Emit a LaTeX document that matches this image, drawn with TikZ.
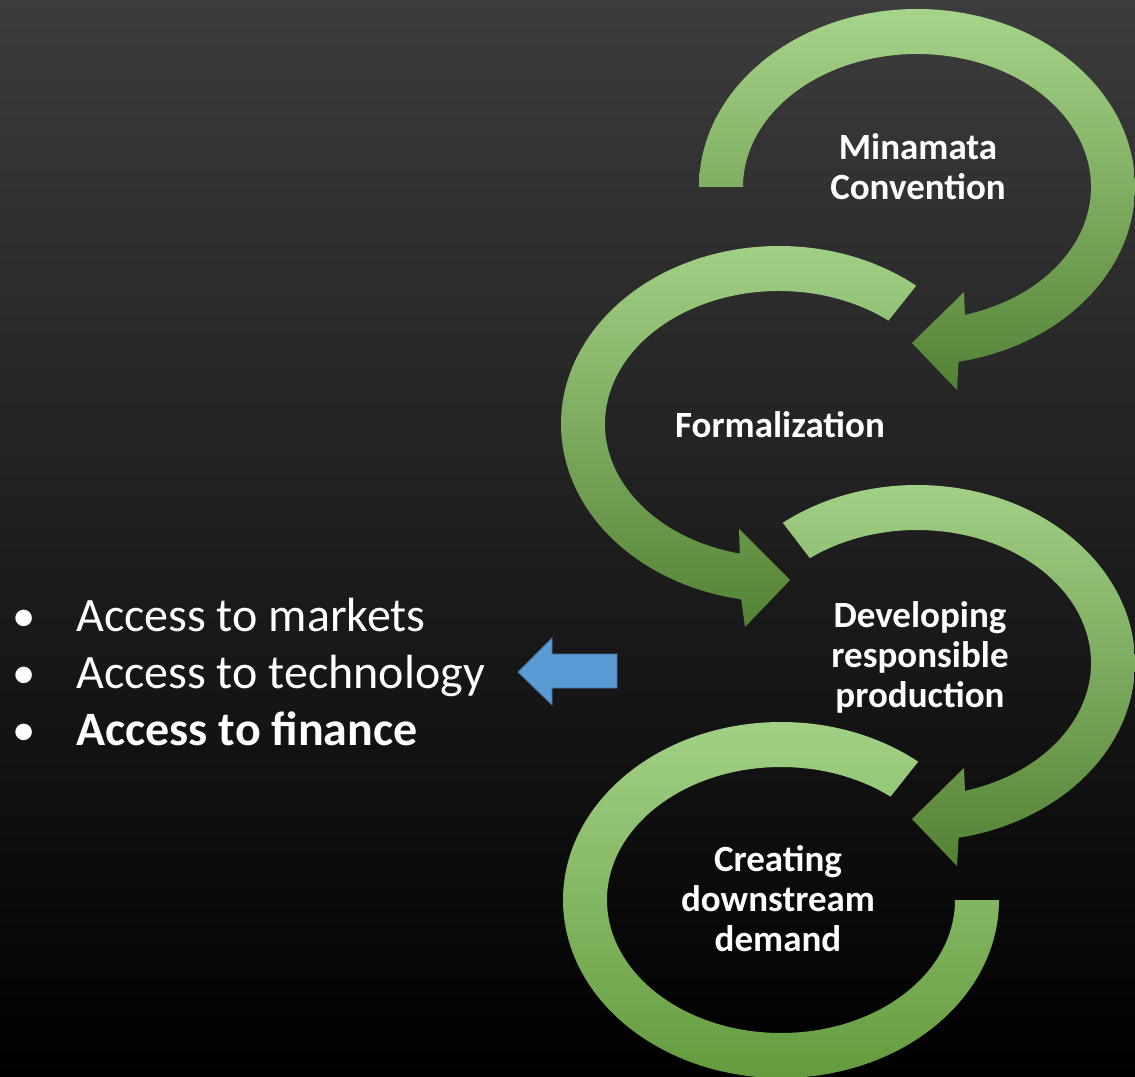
\documentclass[tikz,border=0pt]{standalone}
\usepackage{fontspec}
\setmainfont{Carlito}
\usepackage{tikz}

\definecolor{bgtop}{RGB}{60,60,60}
\definecolor{gtop}{RGB}{166,212,138}
\definecolor{gmid}{RGB}{112,173,71}
\definecolor{gbot}{RGB}{84,130,53}
\definecolor{glow}{RGB}{96,152,58}
\definecolor{blueArrow}{RGB}{91,155,213}
\definecolor{blueEdge}{RGB}{65,113,156}

\newcommand{\listdot}{\makebox[48pt][l]{\fontsize{35}{30}\selectfont •}}

\tikzset{
  greenarrow/.style={top color=gtop,middle color=gmid,bottom color=gbot},
  steplabel/.style={text=white,font=\fontsize{27.75}{30}\selectfont\bfseries,align=center},
  listitem/.style={text=white,font=\fontsize{36}{42.75}\selectfont,align=left,anchor=north west,inner sep=0pt},
  bluearrow/.style={fill=blueArrow,draw=blueEdge,line width=0.6pt},
}

\begin{document}
\begin{tikzpicture}[x=0.75pt,y=0.75pt,yscale=-1,xscale=1]
\fill[top color=bgtop,bottom color=black] (0,0) rectangle (1135,1077);
\useasboundingbox (0,0) rectangle (1135,1077);
% Minamata Convention
\begin{scope}[shift={(917,187)}]
\path[greenarrow] (180:218 and 178) arc[start angle=180,end angle=439,x radius=218,y radius=178] -- (40,203) -- (-5,156) -- (47,105) -- (434:174 and 133) arc[start angle=434,end angle=180,x radius=174,y radius=133] -- cycle;
\end{scope}
% Formalization
\begin{scope}[shift={(779,424)}]
\path[greenarrow] (309:218 and 178) arc[start angle=309,end angle=100,x radius=218,y radius=178] -- (-34,203) -- (11,156) -- (-40,105) -- (103:174 and 133) arc[start angle=103,end angle=309,x radius=174,y radius=133] -- cycle;
\end{scope}
% Developing responsible production
\begin{scope}[shift={(917,663)}]
\path[greenarrow] (232:218 and 178) arc[start angle=232,end angle=439,x radius=218,y radius=178] -- (40,203) -- (-5,156) -- (47,105) -- (434:174 and 133) arc[start angle=434,end angle=232,x radius=174,y radius=133] -- cycle;
\end{scope}
% Creating downstream demand
\begin{scope}[shift={(781,900)}]
\path[greenarrow,bottom color=glow] (309:218 and 178) arc[start angle=309,end angle=0,x radius=218,y radius=178] -- (0:174 and 133) arc[start angle=0,end angle=309,x radius=174,y radius=133] -- cycle;
\end{scope}
\draw (918,167) node (minamata) [steplabel] {Minamata\\Convention};
\draw (780,425) node (formal) [steplabel] {Formalization};
\draw (920,657) node (developing) [steplabel] {Developing\\responsible\\production};
\draw (778,899) node (creating) [steplabel] {Creating\\downstream\\demand};
% list
\draw (12,598) node (accessList) [listitem] {\listdot Access to markets\\\listdot Access to technology\\\listdot\textbf{Access to finance}};
\draw[bluearrow] (617,654) -- (552,654) -- (552,638) -- (518,672) -- (552,705) -- (552,688) -- (617,688) -- cycle;
\end{tikzpicture}
\end{document}
